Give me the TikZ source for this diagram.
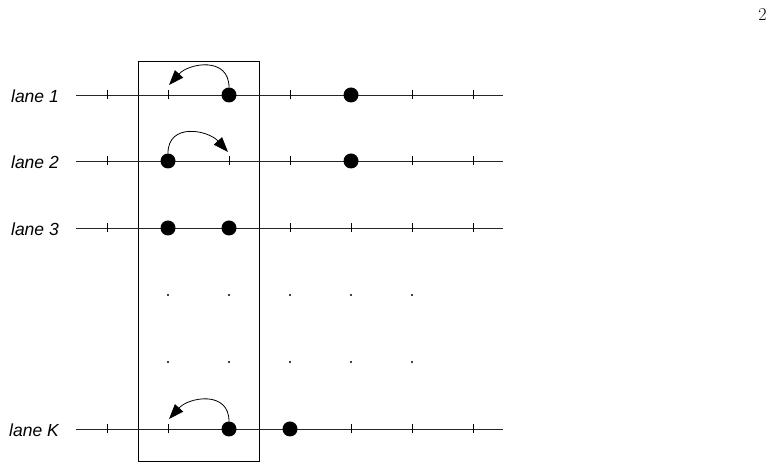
\documentclass[tikz,border=0pt]{standalone}
\usepackage{fontspec}
\newfontfamily\lanefont{Liberation Sans}
\usetikzlibrary{arrows.meta}
\begin{document}
\begin{tikzpicture}[x=1pt,y=1pt,
  laneline/.style={line width=0.8pt,draw=black!85},
  tickmark/.style={line width=0.8pt},
  bigdot/.style={circle,fill=black,inner sep=0pt,minimum size=15pt},
  smalldot/.style={circle,fill=black,inner sep=0pt,minimum size=2.4pt},
  lanelabel/.style={font=\lanefont\itshape\fontsize{17.5}{20}\selectfont,anchor=base east,inner sep=0pt},
  hop/.style={line width=0.8pt,-{Triangle[length=15pt,width=11pt]}},
  window/.style={draw,line width=0.8pt,inner sep=0pt,anchor=south west,minimum width=121pt,minimum height=400pt}]
\useasboundingbox (0,0) rectangle (774,470);

% page number
\node[font=\fontsize{18}{20}\selectfont,anchor=base,inner sep=0pt] (pg) at (762.5,449) {2};

% window box
\node[window] (win) at (138,8) {};

% lanes
\foreach \n/\y/\t in {1/375/lane 1,2/309/lane 2,3/242/lane 3,K/41/lane K}{
  \coordinate (s\n) at (76,\y);
  \coordinate (e\n) at (503,\y);
  \draw[laneline] (s\n) -- (e\n);
  \foreach \x in {107,168,229,290,351,412,473}
    \draw[tickmark] (\x,\y-4.5) -- (\x,\y+4.5);
  \node[lanelabel] (lab\n) at (59,\y-7.5) {\t};
}

% particles
\node[bigdot] (d1a) at (229,375) {};
\node[bigdot] (d1b) at (351,375) {};
\node[bigdot] (d2a) at (168,309) {};
\node[bigdot] (d2b) at (351,309) {};
\node[bigdot] (d3a) at (168,242) {};
\node[bigdot] (d3b) at (229,242) {};
\node[bigdot] (dKa) at (229,41) {};
\node[bigdot] (dKb) at (290,41) {};

% hop targets
\coordinate (h1) at (169,385);
\coordinate (h2) at (228,318);
\coordinate (hK) at (169,51);

\draw[hop] (d1a.north) .. controls +(0,31) and +(20,22) .. (h1);
\draw[hop] (d2a.north) .. controls +(0,31) and +(-20,22) .. (h2);
\draw[hop] (dKa.north) .. controls +(0,31) and +(20,22) .. (hK);

% vertical ellipsis dots
\foreach \x [count=\i] in {168,229,290,351,412}{
  \node[smalldot] (pa\i) at (\x,175) {};
  \node[smalldot] (pb\i) at (\x,108) {};
}
\end{tikzpicture}
\end{document}
